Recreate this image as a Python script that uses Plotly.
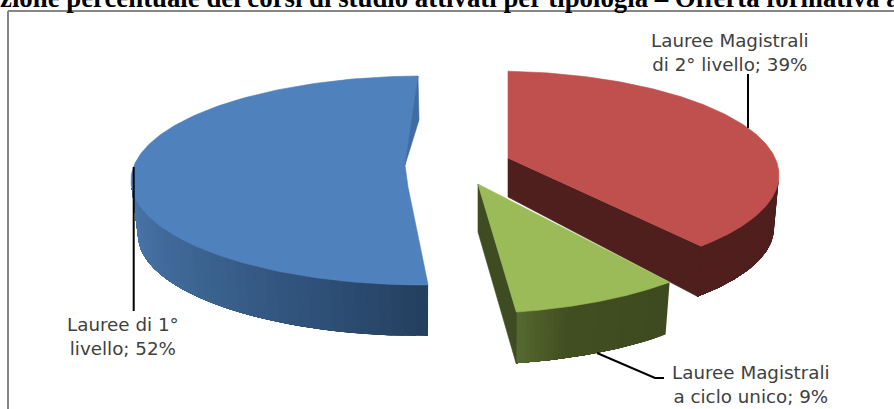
import numpy as np
import plotly.graph_objects as go

# ---- data ----
categories = ["Lauree Magistrali di 2° livello", "Lauree Magistrali a ciclo unico", "Lauree di 1° livello"]
label_lines = [("Lauree Magistrali", "di 2° livello"), ("Lauree Magistrali", "a ciclo unico"), ("Lauree di 1°", "livello")]
shares = [39, 9, 52]
title_text = "zione percentuale dei corsi di studio attivati per tipologia – Offerta formativa a"

# ---- look of the 3-D pie (pixel-based axes) ----
W, H = 894, 409
looks = [
    dict(top=(492, 175, 287, 104), low=(492, 228, 282, 100), tip=(508, 158), depth=39, t0=3.2, k=0.926,
         color="#c0504d", wall=[(0, "#4f1f1e"), (1, "#4f1f1e")]),
    dict(top=(461, 210, 290, 104), low=(462, 265, 283, 100), tip=(478, 184), depth=48, t0=134, k=1.08,
         color="#9bbb59", wall=[(0, "#3e4b20"), (0.7, "#424f22"), (1, "#566a30")]),
    dict(top=(423, 180.5, 292, 104.5), low=(423, 235, 285, 101), tip=(408, 187), depth=0, t0=179, k=0.9615,
         color="#4f81bd", wall=[(0, "#24405f"), (0.25, "#2f5078"), (0.6, "#3d6592"), (1, "#4a76ad")]),
]


def hex2rgb(h):
    return np.array([int(h[i:i + 2], 16) for i in (1, 3, 5)], float)


def ramp(stops, f):
    for (a, ca), (b, cb) in zip(stops, stops[1:]):
        if f <= b:
            u = (f - a) / (b - a) if b > a else 0
            c = hex2rgb(ca) * (1 - u) + hex2rgb(cb) * u
            return "rgb(%d,%d,%d)" % tuple(c)
    return stops[-1][1]


def pt(e, t):
    r = np.radians(t)
    return e[0] + e[2] * np.sin(r), e[1] - e[3] * np.cos(r)


fig = go.Figure()


def poly(xs, ys, color, lw=0.6):
    fig.add_trace(go.Scatter(x=list(xs), y=list(ys), mode="lines", fill="toself", fillcolor=color,
                             line=dict(color=color, width=lw), hoverinfo="skip", showlegend=False))


arcs = []
for s, lk in zip(shares, looks):
    arcs.append((lk["t0"], lk["t0"] + s * 3.6 * lk["k"]))

draw_order = [2, 0, 1]
for idx in draw_order:
    lk = looks[idx]
    a, b = arcs[idx]
    top, low = lk["top"], lk["low"]
    # outer wall, only the part facing the viewer; each band runs to the far end so no seams show
    wa = max(a, 90)
    wb = min(b, 266)
    n = 36
    edges = np.linspace(wa, wb, n + 1)
    for i in range(n):
        f = (i + 0.5) / n
        ts = np.linspace(edges[i], wb, 60)
        tx_ = [pt(top, t)[0] for t in ts]
        ty_ = [pt(top, t)[1] for t in ts]
        lx_ = [pt(low, t)[0] for t in ts[::-1]]
        ly_ = [pt(low, t)[1] for t in ts[::-1]]
        poly(tx_ + lx_ + tx_[:1], ty_ + ly_ + ty_[:1], ramp(lk["wall"], f), lw=0)
    # inner cut face
    tx, ty = lk["tip"]
    if idx == 0:
        ex, ey = pt(top, b); lx, ly = pt(low, b)
        poly([tx, tx, lx, ex, tx], [ty, ty + lk["depth"], ly, ey, ty], lk["wall"][0][1])
    if idx == 1:
        ex, ey = pt(top, b); lx, ly = pt(low, b)
        poly([tx, tx, lx, ex, tx], [ty, ty + lk["depth"], ly, ey, ty], "#3f4c22")
    # top surface
    ts = np.linspace(a, b, 160)
    xs = [pt(top, t)[0] for t in ts]
    ys = [pt(top, t)[1] for t in ts]
    if idx == 2:
        # notch of the large slice, with the visible part of its cut face
        xs += [418, 405, tx, xs[0]]
        ys += [76, 165, ty, ys[0]]
        poly(xs, ys, lk["color"])
        poly([418, 419, 405, 418], [76, 120, 165, 76], "#3f6ca2")
    else:
        xs += [tx, xs[0]]
        ys += [ty, ys[0]]
        poly(xs, ys, lk["color"])

# leader lines
leaders = [([748, 748], [74, 128]), ([597, 655, 664], [353, 378, 378]), ([133.7, 133.7], [167, 311])]
for lx, ly in leaders:
    fig.add_trace(go.Scatter(x=lx, y=ly, mode="lines", line=dict(color="#000000", width=2),
                             hoverinfo="skip", showlegend=False))

# data labels
label_pos = [(730, 52), (751, 384), (123, 336)]
anns = []
for (l1, l2), s, (x, y) in zip(label_lines, shares, label_pos):
    anns.append(dict(x=x, y=y, xref="x", yref="y", text=f"{l1}<br>{l2}; {s}%", showarrow=False,
                     font=dict(family="DejaVu Sans", size=18.3, color="#404040"), align="center",
                     xanchor="center", yanchor="middle"))
anns.append(dict(x=0, y=1, xref="paper", yref="paper", text=f"<b>{title_text}</b>", showarrow=False,
                 xanchor="left", yanchor="top", xshift=-2, yshift=19.5,
                 font=dict(family="Liberation Serif", size=26.8, color="#000000")))

frame = [dict(type="line", x0=8, x1=8, y0=11, y1=H, line=dict(color="#868686", width=2)),
         dict(type="line", x0=8, x1=W, y0=11, y1=11, line=dict(color="#868686", width=2))]

fig.update_layout(width=W, height=H, margin=dict(l=0, r=0, t=0, b=0), paper_bgcolor="white", plot_bgcolor="white",
                  xaxis=dict(range=[0, W], visible=False, fixedrange=True),
                  yaxis=dict(range=[H, 0], visible=False, fixedrange=True),
                  annotations=anns, shapes=frame, showlegend=False)
fig.write_html("out.html", config=dict(displayModeBar=False),
               post_script="document.body.style.margin='0';document.body.style.overflow='hidden';")
